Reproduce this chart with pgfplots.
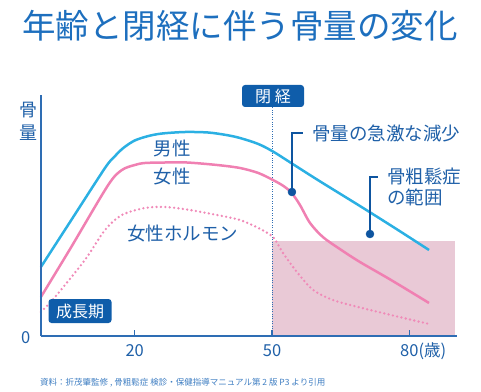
\documentclass[border=0pt]{standalone}
\usepackage{fontspec}
\setmainfont{Noto Sans CJK JP}
\usepackage{pgfplots}
\pgfplotsset{compat=1.18}
\definecolor{titleblue}{HTML}{1D6FBE}
\definecolor{textblue}{HTML}{1F60A8}
\definecolor{axisblue}{HTML}{2E6DB4}
\definecolor{male}{HTML}{2BB0E3}
\definecolor{female}{HTML}{F080B2}
\definecolor{hormone}{HTML}{F08AB8}
\definecolor{rectpink}{HTML}{E9C9D6}
\definecolor{boxblue}{HTML}{0F5DAA}
\definecolor{dotblue}{HTML}{0E55A0}
\definecolor{notecol}{HTML}{3F7EC2}
\begin{document}
\begin{tikzpicture}[x=1pt,y=1pt]
\begin{axis}[
  name=ax, at={(0,0)}, anchor=origin, scale only axis,
  width=416.5pt, height=241pt,
  xmin=-0.5, xmax=90.5, ymin=0, ymax=241,
  axis x line=bottom, axis y line=left,
  axis line style={-, draw=axisblue, line width=1.5pt},
  axis on top, clip=false,
  xtick={20,50,80}, xticklabels={20,50,{80\rlap{(歳)}}},
  ytick={0}, yticklabels={0},
  tick align=inside, major tick length=6pt,
  xtick style={draw=axisblue, line width=1.3pt},
  ytick style={draw=none},
  xticklabel style={anchor=base, yshift=-20pt, text=textblue, font=\fontsize{16.5}{18}\selectfont},
  yticklabel style={anchor=base east, xshift=-7pt, yshift=-7pt, text=textblue, font=\fontsize{16.5}{18}\selectfont},
  /pgf/number format/assume math mode=true,
]
\addplot[fill=rectpink, draw=none] coordinates {(50,95) (90,95)} \closedcycle;
\addplot[axisblue, line width=0.8pt, dash pattern=on 0.8pt off 1.6pt] coordinates {(50,0) (50,229)};
\addplot[male, line width=2.5pt, smooth] coordinates {
(-0.5,69) (6,115) (13.5,168) (15.5,179) (17.5,188) (20,195.5) (23,200) (26,202.5) (31,204) (36,203.5) (40,201) (43,198) (47,192) (50.2,184.5) (54,173.5) (60,156) (69.2,130) (77,107.5) (84.3,86)};
\addplot[female, line width=2.5pt, smooth] coordinates {
(-0.5,39) (6,88) (14.2,151) (17.2,166) (20,171) (22.2,173) (26.6,173.5) (31.4,173.5) (38,171) (43,168) (47,163) (50.2,156) (52.5,150) (54.3,143) (56.1,131) (58.3,113) (61.1,99) (64.8,87) (69.2,74) (76,56) (84.3,33)};
\addplot[hormone, line width=2.6pt, line cap=round, dash pattern=on 0pt off 4.4pt, smooth] coordinates {
(-0.5,24) (2.6,39) (9.1,76) (13.5,106) (17.2,121) (22.2,128) (26.6,129) (31.4,126.5) (38,121) (43,116) (47,108) (50.2,99) (52.4,83) (55.6,63) (59,46) (63.3,36) (68.8,29) (76,21) (84.3,12)};
\addplot[dotblue, line width=1.3pt] coordinates {(54.35,144) (54.35,203) (56.8,203)};
\addplot[dotblue, line width=1.3pt] coordinates {(71.4,102) (71.4,159) (73.1,159)};
\addplot[only marks, mark=*, mark size=4pt, dotblue] coordinates {(54.35,144) (71.4,102)};
\end{axis}
\begin{scope}[shift={(ax.origin)}, xshift=-43.2pt, yshift=336pt]
\path[use as bounding box] (0,0) rectangle (481,-391);
\node[titleblue, font=\fontsize{33.5}{38}\selectfont] at (240,-26) {年齢と閉経に伴う骨量の変化};
\node[textblue, font=\fontsize{18}{20}\selectfont] at (28,-110) {骨};
\node[textblue, font=\fontsize{18}{20}\selectfont] at (28,-133) {量};
\node[textblue, font=\fontsize{18.5}{20}\selectfont] at (172,-148) {男性};
\node[textblue, font=\fontsize{18.5}{20}\selectfont] at (172,-177) {女性};
\node[textblue, font=\fontsize{18.5}{20}\selectfont] at (182.5,-234) {女性ホルモン};
\node[textblue, font=\fontsize{18.5}{20}\selectfont, anchor=west, inner sep=0pt] at (312,-133.5) {骨量の急激な減少};
\node[textblue, font=\fontsize{18.5}{20}\selectfont, anchor=west, inner sep=0pt] at (387,-176.5) {骨粗鬆症};
\node[textblue, font=\fontsize{18.5}{20}\selectfont, anchor=west, inner sep=0pt] at (387,-197.5) {の範囲};
\node[fill=boxblue, rounded corners=3pt, text=white, minimum width=63pt, minimum height=24pt, inner sep=0pt, font=\fontsize{16}{18}\selectfont] at (80,-311) {成長期};
\node[fill=boxblue, rounded corners=3pt, text=white, minimum width=62pt, minimum height=22pt, inner sep=0pt, font=\fontsize{16}{18}\selectfont] at (273,-96) {閉\hspace{4pt}経};
\node[notecol, font=\fontsize{8.5}{10}\selectfont, anchor=west, inner sep=0pt] at (40,-383) {資料：折茂肇監修 , 骨粗鬆症 検診・保健指導マニュアル第 2 版 P3 より引用};
\end{scope}
\end{tikzpicture}
\end{document}
